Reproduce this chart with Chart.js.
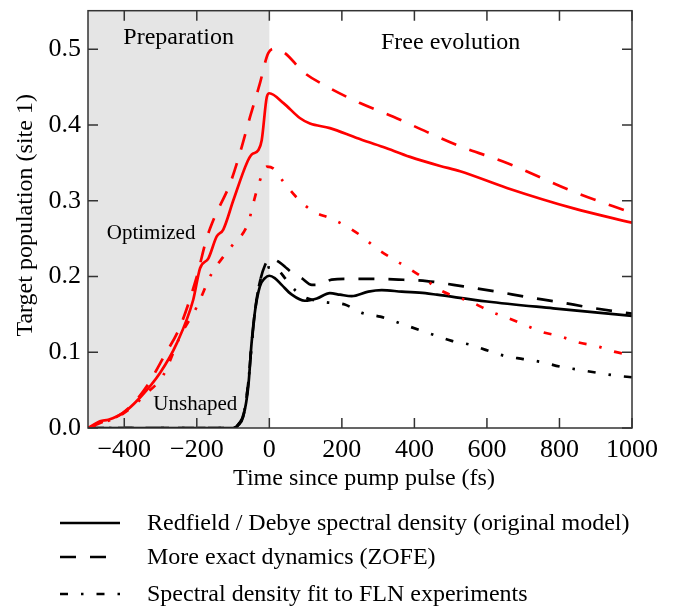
<!DOCTYPE html>
<html>
<head>
<meta charset="utf-8">
<script src="https://cdn.jsdelivr.net/npm/chart.js@4.4.0/dist/chart.umd.min.js"></script>
<style>
  html, body { margin: 0; padding: 0; background: #fff; }
</style>
</head>
<body>
<canvas id="myChart" width="673" height="608"></canvas>
<script>
// axis ticks
const xTicks = [-400, -200, 0, 200, 400, 600, 800, 1000];
const yTicks = [0, 0.1, 0.2, 0.3, 0.4, 0.5];
const prepWindow = [-500, 0]; // shaded "Preparation" interval (fs)

// optimized pulse (red)
const redSolidT = [-500, -467, -444, -403, -357, -301, -255, -210, -191, -168, -145, -127, -99, -62, -49, -30, -21, -7, 0, 39, 85, 112, 167, 241, 314, 388, 471, 526, 655, 839, 1000];
const redSolidY = [0, 0.009, 0.011, 0.02, 0.04, 0.073, 0.112, 0.169, 0.211, 0.224, 0.253, 0.262, 0.301, 0.35, 0.361, 0.367, 0.38, 0.437, 0.442, 0.429, 0.409, 0.402, 0.396, 0.383, 0.371, 0.358, 0.346, 0.339, 0.317, 0.29, 0.271];

const redDashT = [-500, -460, -420, -380, -338, -290, -246, -200, -173, -154, -108, -81, -53, -26, -3, 16, 43, 94, 158, 250, 342, 434, 526, 655, 839, 1000];
const redDashY = [0, 0.008, 0.015, 0.03, 0.055, 0.095, 0.134, 0.2, 0.25, 0.275, 0.323, 0.363, 0.411, 0.455, 0.495, 0.501, 0.495, 0.47, 0.451, 0.429, 0.411, 0.391, 0.372, 0.35, 0.312, 0.284];

const redDotT = [-500, -460, -420, -380, -340, -292, -246, -200, -159, -127, -104, -58, -44, -30, -7, 13, 39, 80, 121, 167, 214, 255, 296, 338, 384, 425, 471, 563, 609, 659, 705, 751, 802, 852, 903, 949, 1000];
const redDotY = [0, 0.007, 0.014, 0.027, 0.045, 0.07, 0.121, 0.16, 0.204, 0.226, 0.24, 0.271, 0.297, 0.321, 0.345, 0.342, 0.325, 0.302, 0.286, 0.277, 0.266, 0.253, 0.237, 0.224, 0.211, 0.198, 0.182, 0.165, 0.154, 0.145, 0.136, 0.127, 0.121, 0.113, 0.108, 0.101, 0.096];

// unshaped pulse (black)
const blackSolidT = [-500, -100, -85, -72, -58, -49, -39, -26, -12, 0, 15, 34, 62, 98, 131, 167, 195, 227, 273, 310, 365, 430, 462, 600, 783, 1000];
const blackSolidY = [0, 0, 0.004, 0.015, 0.055, 0.112, 0.156, 0.187, 0.198, 0.201, 0.198, 0.189, 0.176, 0.168, 0.171, 0.178, 0.176, 0.174, 0.18, 0.182, 0.18, 0.178, 0.176, 0.167, 0.158, 0.148];

const blackDashT = [-500, -100, -85, -70, -58, -48, -38, -25, -12, 0, 15, 30, 43, 60, 89, 117, 145, 172, 218, 264, 356, 434, 535, 627, 710, 802, 885, 1000];
const blackDashY = [0, 0, 0.005, 0.02, 0.06, 0.115, 0.16, 0.195, 0.215, 0.223, 0.222, 0.218, 0.213, 0.206, 0.198, 0.189, 0.19, 0.196, 0.197, 0.197, 0.196, 0.194, 0.187, 0.18, 0.173, 0.166, 0.159, 0.151];

const blackDotT = [-500, -100, -85, -70, -58, -48, -38, -25, -15, 0, 16, 30, 43, 71, 100, 130, 158, 208, 255, 306, 380, 453, 503, 554, 604, 650, 700, 751, 802, 852, 903, 958, 1000];
const blackDotY = [0, 0, 0.005, 0.02, 0.06, 0.115, 0.16, 0.195, 0.207, 0.212, 0.212, 0.206, 0.198, 0.182, 0.172, 0.168, 0.166, 0.163, 0.152, 0.147, 0.135, 0.123, 0.115, 0.11, 0.102, 0.095, 0.091, 0.087, 0.081, 0.077, 0.073, 0.069, 0.067];

const legendLabels = [
  "Redfield / Debye spectral density (original model)",
  "More exact dynamics (ZOFE)",
  "Spectral density fit to FLN experiments"
];

const DASH = [16, 14];
const DASHDOT = [8, 13, 2.5, 13];
const FONT = "'Liberation Serif', 'Times New Roman', serif";

const pts = (t, v) => t.map((x, i) => ({ x: x, y: v[i] }));

const series = (t, v, color, dash) => ({
  data: pts(t, v),
  borderColor: color,
  borderWidth: 2.7,
  borderDash: dash,
  pointRadius: 0,
  fill: false,
  cubicInterpolationMode: "monotone",
});

// shaded region, frame, inward ticks, labels, legend
const decorations = {
  id: "decorations",
  beforeDatasetsDraw(chart) {
    const { ctx, chartArea: a, scales: { x } } = chart;
    const x0 = x.getPixelForValue(prepWindow[0]);
    const x1 = x.getPixelForValue(prepWindow[1]);
    ctx.save();
    ctx.fillStyle = "#e5e5e5";
    ctx.fillRect(x0, a.top, x1 - x0, a.bottom - a.top);
    ctx.restore();
  },
  afterDatasetsDraw(chart) {
    const { ctx, chartArea: a, scales: { x, y } } = chart;
    ctx.save();
    ctx.strokeStyle = "#333";
    ctx.lineWidth = 1.5;
    ctx.strokeRect(a.left, a.top, a.right - a.left, a.bottom - a.top);
    const len = 10;
    ctx.beginPath();
    xTicks.forEach((v) => {
      const px = x.getPixelForValue(v);
      ctx.moveTo(px, a.bottom); ctx.lineTo(px, a.bottom - len);
      ctx.moveTo(px, a.top); ctx.lineTo(px, a.top + len);
    });
    yTicks.forEach((v) => {
      const py = y.getPixelForValue(v);
      ctx.moveTo(a.left, py); ctx.lineTo(a.left + len, py);
      ctx.moveTo(a.right, py); ctx.lineTo(a.right - len, py);
    });
    ctx.stroke();

    // text inside the plot
    ctx.fillStyle = "#000";
    ctx.textAlign = "center";
    ctx.textBaseline = "alphabetic";
    ctx.font = "24px " + FONT;
    ctx.fillText("Preparation", x.getPixelForValue(-250), y.getPixelForValue(0.507));
    ctx.fillText("Free evolution", x.getPixelForValue(500), y.getPixelForValue(0.5004));
    ctx.font = "21px " + FONT;
    ctx.fillText("Optimized", x.getPixelForValue(-326), y.getPixelForValue(0.2493));
    ctx.fillText("Unshaped", x.getPixelForValue(-204), y.getPixelForValue(0.0232));

    // axis titles
    ctx.font = "24px " + FONT;
    ctx.fillText("Time since pump pulse (fs)", (a.left + a.right) / 2 + 4, 485);
    ctx.save();
    ctx.translate(31.5, (a.top + a.bottom) / 2 - 4);
    ctx.rotate(-Math.PI / 2);
    ctx.fillText("Target population (site 1)", 0, 0);
    ctx.restore();

    // legend (black styles)
    const rows = [523, 557, 594];
    const dashes = [[], DASH, DASHDOT];
    ctx.strokeStyle = "#000";
    ctx.lineWidth = 2.7;
    ctx.textAlign = "left";
    ctx.textBaseline = "middle";
    rows.forEach((ry, i) => {
      ctx.setLineDash(dashes[i]);
      ctx.beginPath();
      ctx.moveTo(60, ry); ctx.lineTo(120, ry);
      ctx.stroke();
      ctx.fillText(legendLabels[i], 147, ry + 1);
    });
    ctx.restore();
  }
};

Chart.defaults.font.family = FONT;
Chart.defaults.font.size = 26;
Chart.defaults.color = "#000";

new Chart(document.getElementById("myChart"), {
  type: "line",
  data: {
    datasets: [
      series(redSolidT, redSolidY, "#ff0000", []),
      series(redDashT, redDashY, "#ff0000", DASH),
      series(redDotT, redDotY, "#ff0000", DASHDOT),
      series(blackSolidT, blackSolidY, "#000000", []),
      series(blackDashT, blackDashY, "#000000", DASH),
      series(blackDotT, blackDotY, "#000000", DASHDOT),
    ],
  },
  options: {
    responsive: false,
    animation: false,
    layout: { padding: { top: 10.7, right: 41, left: 0, bottom: 0 } },
    plugins: { legend: { display: false }, tooltip: { enabled: false } },
    scales: {
      x: {
        type: "linear",
        min: -500,
        max: 1000,
        grid: { display: false, drawTicks: false },
        border: { display: false },
        afterBuildTicks: (s) => { s.ticks = xTicks.map((v) => ({ value: v })); },
        afterFit: (s) => { s.height = 180; s.paddingLeft = 0; s.paddingRight = 0; },
        ticks: {
          padding: 7,
          maxRotation: 0,
          autoSkip: false,
          callback: (v) => (v < 0 ? "\u2212" + Math.abs(v) : String(v)),
        },
      },
      y: {
        min: 0,
        max: 0.551,
        grid: { display: false, drawTicks: false },
        border: { display: false },
        afterBuildTicks: (s) => { s.ticks = yTicks.map((v) => ({ value: v })); },
        afterFit: (s) => { s.width = 88; s.paddingTop = 0; s.paddingBottom = 0; },
        ticks: {
          padding: 7,
          callback: (v) => v.toFixed(1),
        },
      },
    },
  },
  plugins: [decorations],
});
</script>
</body>
</html>
